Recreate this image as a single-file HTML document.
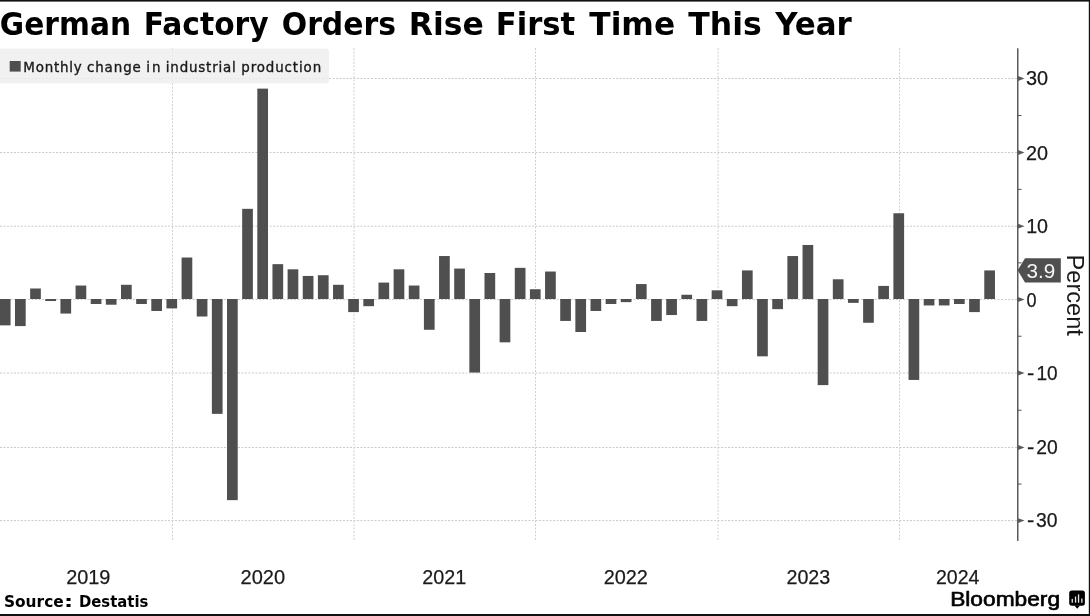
<!DOCTYPE html>
<html lang="en"><head><meta charset="utf-8"><title>German Factory Orders Rise First Time This Year</title>
<style>html,body{margin:0;padding:0;background:#fff;}body{width:1090px;height:616px;overflow:hidden;position:relative;}svg{display:block;position:absolute;left:0;top:0;}text{white-space:pre;}</style>
</head><body>
<svg width="1090" height="616" viewBox="0 0 1090 616" role="img" aria-label="German Factory Orders Rise First Time This Year">
<rect x="0" y="0" width="1090" height="616" fill="#fff"/>
<g stroke="#cbcbcb" stroke-width="1" stroke-dasharray="2 1.5" fill="none">
<line x1="0" y1="78.50" x2="1017" y2="78.50"/>
<line x1="0" y1="152.50" x2="1017" y2="152.50"/>
<line x1="0" y1="226.20" x2="1017" y2="226.20"/>
<line x1="0" y1="299.50" x2="1017" y2="299.50"/>
<line x1="0" y1="373.00" x2="1017" y2="373.00"/>
<line x1="0" y1="447.50" x2="1017" y2="447.50"/>
<line x1="0" y1="520.60" x2="1017" y2="520.60"/>
<line x1="172.50" y1="48" x2="172.50" y2="540.6" stroke="#d0d0d0"/>
<line x1="354.00" y1="48" x2="354.00" y2="540.6" stroke="#d0d0d0"/>
<line x1="535.50" y1="48" x2="535.50" y2="540.6" stroke="#d0d0d0"/>
<line x1="718.00" y1="48" x2="718.00" y2="540.6" stroke="#d0d0d0"/>
<line x1="899.50" y1="48" x2="899.50" y2="540.6" stroke="#d0d0d0"/>
</g>
<rect x="-4" y="48.5" width="333" height="35" rx="3" ry="3" fill="#ededed" fill-opacity="0.8"/>
<g fill="#4f4f4f">
<rect x="-0.15" y="299.00" width="10.7" height="26.36"/>
<rect x="14.99" y="299.00" width="10.7" height="27.10"/>
<rect x="30.14" y="288.49" width="10.7" height="10.51"/>
<rect x="45.29" y="299.00" width="10.7" height="2.03"/>
<rect x="60.43" y="299.00" width="10.7" height="14.56"/>
<rect x="75.57" y="285.54" width="10.7" height="13.46"/>
<rect x="90.72" y="299.00" width="10.7" height="4.98"/>
<rect x="105.86" y="299.00" width="10.7" height="5.71"/>
<rect x="121.01" y="284.80" width="10.7" height="14.20"/>
<rect x="136.16" y="299.00" width="10.7" height="4.98"/>
<rect x="151.30" y="299.00" width="10.7" height="11.98"/>
<rect x="166.44" y="299.00" width="10.7" height="9.40"/>
<rect x="181.59" y="257.51" width="10.7" height="41.49"/>
<rect x="196.73" y="299.00" width="10.7" height="17.51"/>
<rect x="211.88" y="299.00" width="10.7" height="114.86"/>
<rect x="227.02" y="299.00" width="10.7" height="201.15"/>
<rect x="242.17" y="208.84" width="10.7" height="90.16"/>
<rect x="257.31" y="88.63" width="10.7" height="210.38"/>
<rect x="272.46" y="264.15" width="10.7" height="34.85"/>
<rect x="287.61" y="269.31" width="10.7" height="29.69"/>
<rect x="302.75" y="275.95" width="10.7" height="23.05"/>
<rect x="317.90" y="275.21" width="10.7" height="23.79"/>
<rect x="333.04" y="284.80" width="10.7" height="14.20"/>
<rect x="348.19" y="299.00" width="10.7" height="13.09"/>
<rect x="363.33" y="299.00" width="10.7" height="7.19"/>
<rect x="378.48" y="282.59" width="10.7" height="16.41"/>
<rect x="393.62" y="269.31" width="10.7" height="29.69"/>
<rect x="408.76" y="285.54" width="10.7" height="13.46"/>
<rect x="423.91" y="299.00" width="10.7" height="30.79"/>
<rect x="439.06" y="256.04" width="10.7" height="42.96"/>
<rect x="454.20" y="268.57" width="10.7" height="30.43"/>
<rect x="469.35" y="299.00" width="10.7" height="73.56"/>
<rect x="484.49" y="273.00" width="10.7" height="26.00"/>
<rect x="499.63" y="299.00" width="10.7" height="43.32"/>
<rect x="514.78" y="267.84" width="10.7" height="31.16"/>
<rect x="529.92" y="289.23" width="10.7" height="9.77"/>
<rect x="545.07" y="271.53" width="10.7" height="27.47"/>
<rect x="560.22" y="299.00" width="10.7" height="21.94"/>
<rect x="575.36" y="299.00" width="10.7" height="33.00"/>
<rect x="590.50" y="299.00" width="10.7" height="11.98"/>
<rect x="605.65" y="299.00" width="10.7" height="4.98"/>
<rect x="620.79" y="299.00" width="10.7" height="3.13"/>
<rect x="635.94" y="284.06" width="10.7" height="14.94"/>
<rect x="651.09" y="299.00" width="10.7" height="21.94"/>
<rect x="666.23" y="299.00" width="10.7" height="16.04"/>
<rect x="681.38" y="294.76" width="10.7" height="4.24"/>
<rect x="696.52" y="299.00" width="10.7" height="21.94"/>
<rect x="711.66" y="290.33" width="10.7" height="8.67"/>
<rect x="726.81" y="299.00" width="10.7" height="7.19"/>
<rect x="741.96" y="270.42" width="10.7" height="28.58"/>
<rect x="757.10" y="299.00" width="10.7" height="57.34"/>
<rect x="772.25" y="299.00" width="10.7" height="10.14"/>
<rect x="787.39" y="256.04" width="10.7" height="42.96"/>
<rect x="802.53" y="244.98" width="10.7" height="54.02"/>
<rect x="817.68" y="299.00" width="10.7" height="86.10"/>
<rect x="832.83" y="279.27" width="10.7" height="19.73"/>
<rect x="847.97" y="299.00" width="10.7" height="3.87"/>
<rect x="863.12" y="299.00" width="10.7" height="23.78"/>
<rect x="878.26" y="285.91" width="10.7" height="13.09"/>
<rect x="893.40" y="213.26" width="10.7" height="85.74"/>
<rect x="908.55" y="299.00" width="10.7" height="80.94"/>
<rect x="923.70" y="299.00" width="10.7" height="6.45"/>
<rect x="938.84" y="299.00" width="10.7" height="6.45"/>
<rect x="953.99" y="299.00" width="10.7" height="4.98"/>
<rect x="969.13" y="299.00" width="10.7" height="13.09"/>
<rect x="984.27" y="270.42" width="10.7" height="28.58"/>
</g>
<rect x="1017.0" y="48.3" width="1.5" height="492.6" fill="#5a5a5a"/>
<g fill="#5a5a5a">
<path d="M1018 76.10 L1024.6 78.50 L1018 80.90 Z"/>
<path d="M1018 150.10 L1024.6 152.50 L1018 154.90 Z"/>
<path d="M1018 223.80 L1024.6 226.20 L1018 228.60 Z"/>
<path d="M1018 297.10 L1024.6 299.50 L1018 301.90 Z"/>
<path d="M1018 370.60 L1024.6 373.00 L1018 375.40 Z"/>
<path d="M1018 445.10 L1024.6 447.50 L1018 449.90 Z"/>
<path d="M1018 518.20 L1024.6 520.60 L1018 523.00 Z"/>
<rect x="1018" y="115.00" width="3.6" height="1"/>
<rect x="1018" y="188.85" width="3.6" height="1"/>
<rect x="1018" y="262.35" width="3.6" height="1"/>
<rect x="1018" y="335.75" width="3.6" height="1"/>
<rect x="1018" y="409.75" width="3.6" height="1"/>
<rect x="1018" y="483.55" width="3.6" height="1"/>
</g>
<path d="M1017.7 270.3 L1025 258.2 L1060.8 258.2 L1060.8 282.6 L1025 282.6 Z" fill="#4f4f4f"/>
<rect x="9.7" y="61" width="11" height="10.6" fill="#4f4f4f"/>
<text y="35.00" font-family="'DejaVu Sans', 'Liberation Sans', Verdana, sans-serif" font-size="31.5" fill="#000" font-weight="bold"><tspan x="-0.16" textLength="131.30" lengthAdjust="spacingAndGlyphs">German</tspan> <tspan x="143.68" textLength="124.97" lengthAdjust="spacingAndGlyphs">Factory</tspan> <tspan x="281.74" textLength="114.30" lengthAdjust="spacingAndGlyphs">Orders</tspan> <tspan x="408.73" textLength="75.00" lengthAdjust="spacingAndGlyphs">Rise</tspan> <tspan x="495.80" textLength="79.35" lengthAdjust="spacingAndGlyphs">First</tspan> <tspan x="589.31" textLength="85.85" lengthAdjust="spacingAndGlyphs">Time</tspan> <tspan x="688.21" textLength="73.56" lengthAdjust="spacingAndGlyphs">This</tspan> <tspan x="775.19" textLength="76.69" lengthAdjust="spacingAndGlyphs">Year</tspan></text>
<text y="72.40" font-family="'DejaVu Sans Condensed', 'DejaVu Sans', 'Liberation Sans', Tahoma, sans-serif" font-size="14.9" fill="#1a1a1a" stroke="#1a1a1a" stroke-width="0.36"><tspan x="23.34" letter-spacing="0.773">Monthly</tspan> <tspan x="86.92" letter-spacing="0.925">change</tspan> <tspan x="146.20" letter-spacing="2.083">in</tspan> <tspan x="165.80" letter-spacing="0.821">industrial</tspan> <tspan x="241.34" letter-spacing="0.881">production</tspan></text>
<text y="607.20" font-family="'DejaVu Sans', 'Liberation Sans', Verdana, sans-serif" font-size="15.5" fill="#000" font-weight="bold"><tspan x="3.92" textLength="59.82" lengthAdjust="spacingAndGlyphs">Source</tspan><tspan x="63.90" textLength="9.07" lengthAdjust="spacingAndGlyphs">:</tspan> <tspan x="78.98" textLength="69.39" lengthAdjust="spacingAndGlyphs">Destatis</tspan></text>
<text y="606.30" font-family="'Liberation Sans', Arial, Helvetica, sans-serif" font-size="20.4" fill="#000" stroke="#000" stroke-width="0.65" stroke-linejoin="round"><tspan x="950.17" textLength="109.92" lengthAdjust="spacingAndGlyphs">Bloomberg</tspan></text>
<text y="583.90" font-family="'Liberation Sans', Arial, Helvetica, sans-serif" font-size="21" fill="#1a1a1a" stroke="#1a1a1a" stroke-width="0.25"><tspan x="66.15" textLength="44.21" lengthAdjust="spacingAndGlyphs">2019</tspan></text>
<text y="583.90" font-family="'Liberation Sans', Arial, Helvetica, sans-serif" font-size="21" fill="#1a1a1a" stroke="#1a1a1a" stroke-width="0.25"><tspan x="240.55" textLength="44.56" lengthAdjust="spacingAndGlyphs">2020</tspan></text>
<text y="583.90" font-family="'Liberation Sans', Arial, Helvetica, sans-serif" font-size="21" fill="#1a1a1a" stroke="#1a1a1a" stroke-width="0.25"><tspan x="422.26" textLength="43.99" lengthAdjust="spacingAndGlyphs">2021</tspan></text>
<text y="583.90" font-family="'Liberation Sans', Arial, Helvetica, sans-serif" font-size="21" fill="#1a1a1a" stroke="#1a1a1a" stroke-width="0.25"><tspan x="603.65" textLength="44.23" lengthAdjust="spacingAndGlyphs">2022</tspan></text>
<text y="583.90" font-family="'Liberation Sans', Arial, Helvetica, sans-serif" font-size="21" fill="#1a1a1a" stroke="#1a1a1a" stroke-width="0.25"><tspan x="786.46" textLength="43.78" lengthAdjust="spacingAndGlyphs">2023</tspan></text>
<text y="583.90" font-family="'Liberation Sans', Arial, Helvetica, sans-serif" font-size="21" fill="#1a1a1a" stroke="#1a1a1a" stroke-width="0.25"><tspan x="935.97" textLength="43.50" lengthAdjust="spacingAndGlyphs">2024</tspan></text>
<text y="85.00" font-family="'Liberation Sans', Arial, Helvetica, sans-serif" font-size="20.8" fill="#1a1a1a" stroke="#1a1a1a" stroke-width="0.25"><tspan x="1025.96" textLength="22.12" lengthAdjust="spacingAndGlyphs">30</tspan></text>
<text y="160.00" font-family="'Liberation Sans', Arial, Helvetica, sans-serif" font-size="20.8" fill="#1a1a1a" stroke="#1a1a1a" stroke-width="0.25"><tspan x="1026.05" textLength="22.03" lengthAdjust="spacingAndGlyphs">20</tspan></text>
<text y="233.00" font-family="'Liberation Sans', Arial, Helvetica, sans-serif" font-size="20.8" fill="#1a1a1a" stroke="#1a1a1a" stroke-width="0.25"><tspan x="1026.14" textLength="21.93" lengthAdjust="spacingAndGlyphs">10</tspan></text>
<text y="307.00" font-family="'Liberation Sans', Arial, Helvetica, sans-serif" font-size="20.8" fill="#1a1a1a" stroke="#1a1a1a" stroke-width="0.25"><tspan x="1026.58" textLength="10.04" lengthAdjust="spacingAndGlyphs">0</tspan></text>
<text y="380.00" font-family="'Liberation Sans', Arial, Helvetica, sans-serif" font-size="20.8" fill="#1a1a1a" stroke="#1a1a1a" stroke-width="0.25"><tspan x="1026.94" textLength="7.35" lengthAdjust="spacingAndGlyphs">-</tspan><tspan x="1036.49" textLength="21.15" lengthAdjust="spacingAndGlyphs">10</tspan></text>
<text y="454.00" font-family="'Liberation Sans', Arial, Helvetica, sans-serif" font-size="20.8" fill="#1a1a1a" stroke="#1a1a1a" stroke-width="0.25"><tspan x="1026.94" textLength="7.35" lengthAdjust="spacingAndGlyphs">-</tspan><tspan x="1036.17" textLength="21.49" lengthAdjust="spacingAndGlyphs">20</tspan></text>
<text y="527.00" font-family="'Liberation Sans', Arial, Helvetica, sans-serif" font-size="20.8" fill="#1a1a1a" stroke="#1a1a1a" stroke-width="0.25"><tspan x="1026.94" textLength="7.35" lengthAdjust="spacingAndGlyphs">-</tspan><tspan x="1036.09" textLength="21.57" lengthAdjust="spacingAndGlyphs">30</tspan></text>
<text y="278.00" font-family="'Liberation Sans', Arial, Helvetica, sans-serif" font-size="20" fill="#f4f4f4"><tspan x="1026.53" textLength="28.76" lengthAdjust="spacingAndGlyphs">3.9</tspan></text>
<text transform="translate(1066.9 254.6) rotate(90)" font-family="'Liberation Sans', Arial, Helvetica, sans-serif" font-size="23.6" fill="#1a1a1a">Percent</text>
<g><rect x="1069.2" y="590.4" width="15.7" height="15.3" rx="2.6" fill="#000"/><path d="M1074.4 605.5 L1077.2 608.7 L1080 605.5 Z" fill="#000"/><rect x="1071.6" y="598.9" width="1.3" height="3.8" fill="#e6e6e6"/><rect x="1074.9" y="596.5" width="1.3" height="6.2" fill="#e6e6e6"/><rect x="1077.9" y="594.4" width="1.3" height="8.3" fill="#e6e6e6"/><rect x="1081.2" y="598.5" width="1.3" height="4.2" fill="#e6e6e6"/></g>
<rect x="0" y="0" width="1090" height="1.6" fill="#111"/>
<rect x="1088.8" y="0" width="1.2" height="616" fill="#111"/>
<rect x="0" y="614" width="1090" height="2" fill="#111"/>
</svg>
</body></html>
